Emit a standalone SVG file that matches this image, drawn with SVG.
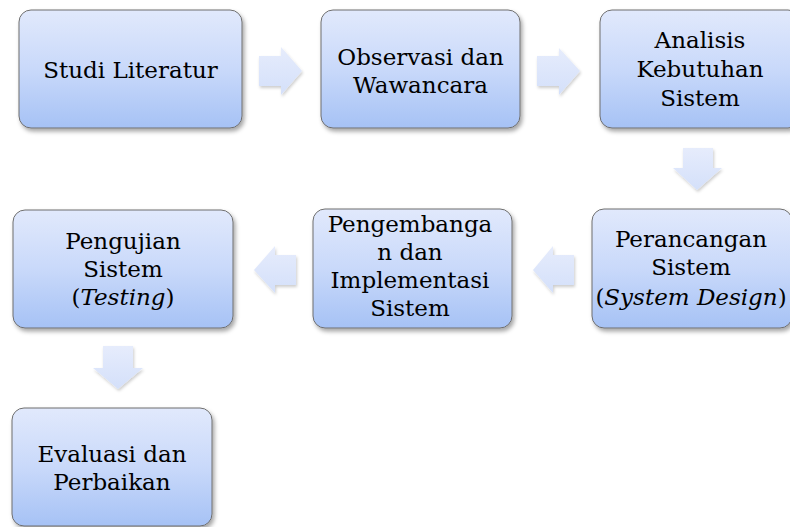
<svg xmlns="http://www.w3.org/2000/svg" width="790" height="527" viewBox="0 0 790 527">
<defs>
<linearGradient id="gBox" x1="0" y1="0" x2="0" y2="1">
<stop offset="0" stop-color="#e1e9fc"/>
<stop offset="0.5" stop-color="#c9d9fa"/>
<stop offset="1" stop-color="#a6c2f5"/>
</linearGradient>
<linearGradient id="gArr" x1="0" y1="0" x2="0" y2="1">
<stop offset="0" stop-color="#e6ecfc"/>
<stop offset="1" stop-color="#d4e0fa"/>
</linearGradient>
<filter id="sh" x="-10%" y="-10%" width="125%" height="130%">
<feDropShadow dx="2" dy="3" stdDeviation="2" flood-color="#000" flood-opacity="0.35"/>
</filter>
<filter id="shA" x="-20%" y="-20%" width="150%" height="150%">
<feDropShadow dx="1" dy="2" stdDeviation="1.5" flood-color="#000" flood-opacity="0.2"/>
</filter>
</defs>
<style>
.box{fill:url(#gBox);stroke:#6f6f6f;stroke-width:1;filter:url(#sh)}
.arr{fill:url(#gArr);stroke:none;filter:url(#shA)}
text{font-family:'DejaVu Serif','Liberation Serif',serif;font-size:23px;fill:#000;text-anchor:middle}
.it{font-style:italic}
</style>
<rect width="790" height="527" fill="#fff"/>
<g id="connectors">
<path class="arr" d="M259,56 H281 V47 L302,71 L281,95 V86 H259 Z"/>
<path class="arr" d="M537,56 H559 V48 L580,71 L559,95 V86 H537 Z"/>
<path class="arr" d="M683,148 H713 V168 H722 L697,190 L673,168 H683 Z"/>
<path class="arr" d="M574,255 V285 H553 V293 L533,270 L553,246 V255 Z"/>
<path class="arr" d="M296,255 V285 H275 V293 L254,270 L275,246 V255 Z"/>
<path class="arr" d="M103,346 H133 V368 H143 L118,389 L93,368 H103 Z"/>
</g>
<g id="n1">
<rect class="box" x="19" y="10" width="223" height="118" rx="12"/>
<text x="130.5" y="78">Studi Literatur</text>
</g>
<g id="n2">
<rect class="box" x="321" y="10" width="199" height="118" rx="12"/>
<text x="420.5" y="65">Observasi dan</text>
<text x="420.5" y="93">Wawancara</text>
</g>
<g id="n3">
<rect class="box" x="600" y="10" width="200" height="118" rx="12"/>
<text x="700" y="48">Analisis</text>
<text x="700" y="77">Kebutuhan</text>
<text x="700" y="106">Sistem</text>
</g>
<g id="n4">
<rect class="box" x="13" y="210" width="220" height="118" rx="12"/>
<text x="123" y="249">Pengujian</text>
<text x="123" y="277">Sistem</text>
<text x="123" y="305">(<tspan class="it">Testing</tspan>)</text>
</g>
<g id="n5">
<rect class="box" x="313" y="209" width="199" height="119" rx="12"/>
<text x="410" y="232">Pengembanga</text>
<text x="410" y="260">n dan</text>
<text x="410" y="288">Implementasi</text>
<text x="410" y="316">Sistem</text>
</g>
<g id="n6">
<rect class="box" x="592" y="209" width="200" height="119" rx="12"/>
<text x="691" y="247">Perancangan</text>
<text x="691" y="275">Sistem</text>
<text x="691" y="305">(<tspan class="it">System Design</tspan>)</text>
</g>
<g id="n7">
<rect class="box" x="12" y="408" width="200" height="118" rx="12"/>
<text x="112" y="462">Evaluasi dan</text>
<text x="112" y="490">Perbaikan</text>
</g>
</svg>
